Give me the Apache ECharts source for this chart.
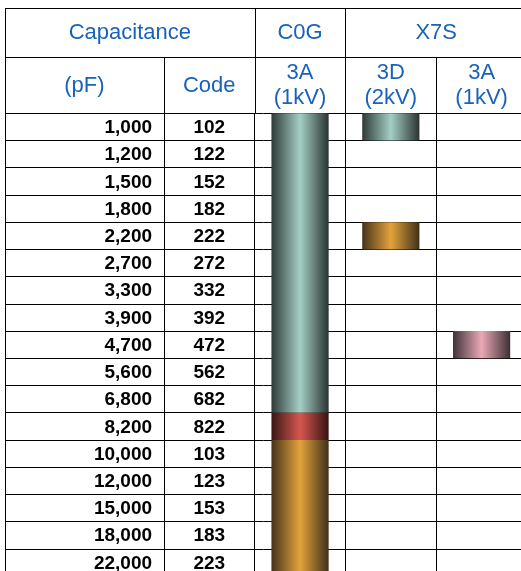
<!DOCTYPE html>
<html>
<head>
<meta charset="utf-8">
<script src="https://cdn.jsdelivr.net/npm/echarts@6/dist/echarts.min.js"></script>
<style>
html,body{margin:0;padding:0;background:#fff;}
#chart{width:521px;height:571px;}
</style>
</head>
<body>
<div id="chart"></div>
<script>
// ---- data ----
const capacitance = ['1,000','1,200','1,500','1,800','2,200','2,700','3,300','3,900','4,700','5,600','6,800','8,200','10,000','12,000','15,000','18,000','22,000'];
const codes = ['102','122','152','182','222','272','332','392','472','562','682','822','103','123','153','183','223'];
const headerTop = ['Capacitance','C0G','X7S'];
const headerSub = ['(pF)','Code','3A\n(1kV)','3D\n(2kV)','3A\n(1kV)'];
// colour class of each row, per product column ('' = not available)
const c0g3A = ['teal','teal','teal','teal','teal','teal','teal','teal','teal','teal','teal','red','orange','orange','orange','orange','orange'];
const x7s3D = ['teal','','','','orange','','','','','','','','','','','',''];
const x7s3A = ['','','','','','','','','pink','','','','','','','',''];

// ---- layout / style ----
const GRID_LEFT = 5, GRID_TOP = 113.3, GRID_W = 522, ROW_H = 27.22;
const UNITS = 5.75;
const UNIT = GRID_W / UNITS;
const colEdges = [0, 1.75, 2.75, 3.75, 4.75];
const productCols = [c0g3A, x7s3D, x7s3A];
const productCenters = [3.25, 4.25, 5.25];
const BAR_W = 0.63;
const BLUE = '#1862bb';
const FONT = '"Liberation Sans", Arial, Helvetica, sans-serif';
const grads = {
  teal:   ['#2e3a38', '#a4cfc4', '#2a3331'],
  red:    ['#3a1615', '#d6574f', '#361413'],
  orange: ['#46331a', '#e3a33d', '#40301a'],
  pink:   ['#40333a', '#eaa9b5', '#3b2f34']
};

const chart = echarts.init(document.getElementById('chart'), null, {renderer: 'canvas'});

// merge consecutive rows of the same colour class into runs: [xCenter, firstRow, lastRow, kind]
const barData = [];
productCols.forEach((col, ci) => {
  let start = -1;
  for (let r = 0; r <= col.length; r++) {
    const k = col[r];
    if (start >= 0 && (r === col.length || k !== col[start])) {
      barData.push([productCenters[ci], start, r - 1, col[start]]);
      start = -1;
    }
    if (r < col.length && k && start < 0) start = r;
  }
});

function px(u) { return GRID_LEFT + u * UNIT; }

// header graphics
const Y0 = 8.5, Y1 = 57.5, Y2 = GRID_TOP;
const graphic = [];
function hline(x1, x2, y) { graphic.push({type:'line', shape:{x1, y1:y, x2, y2:y}, style:{stroke:'#000', lineWidth:1}, silent:true}); }
function vline(x, y1, y2) { graphic.push({type:'line', shape:{x1:x, y1, x2:x, y2}, style:{stroke:'#000', lineWidth:1}, silent:true}); }
hline(px(0), 521, Y0);
hline(px(0), 521, Y1);
function snap(u) { return Math.round(px(u) * 2 + 1) / 2 - 0.5 + (Math.round(px(u)) === Math.round(px(u) * 2) / 2 ? 0.5 : 0); }
[0, 2.75, 3.75].forEach(u => vline(Math.round(px(u)) + 0.5, Y0, Y2));
[1.75, 4.75].forEach(u => vline(Math.round(px(u)) + 0.5, Y1, Y2));
function htext(text, cx, cy) {
  graphic.push({type:'text', x: cx, y: cy, style:{text, fill: BLUE, font: '22px ' + FONT, align:'center', verticalAlign:'middle', lineHeight: 25}, silent:true});
}
const topSpans = [[0, 2.75], [2.75, 3.75], [3.75, 5.75]];
headerTop.forEach((t, i) => htext(t, px((topSpans[i][0] + topSpans[i][1]) / 2), (Y0 + Y1) / 2));
const subSpans = [[0, 1.75], [1.75, 2.75], [2.75, 3.75], [3.75, 4.75], [4.75, 5.75]];
headerSub.forEach((t, i) => htext(t, px((subSpans[i][0] + subSpans[i][1]) / 2), (Y1 + Y2) / 2 + 0.5));

chart.setOption({
  animation: false,
  backgroundColor: '#fff',
  graphic: graphic,
  grid: {left: GRID_LEFT, top: GRID_TOP, width: GRID_W, height: ROW_H * capacitance.length, outerBoundsMode: 'none', containLabel: false},
  xAxis: {type: 'value', min: 0, max: UNITS, show: false},
  yAxis: {
    type: 'category', data: capacitance, inverse: true,
    axisLine: {show: false}, axisTick: {show: false}, axisLabel: {show: false},
    splitLine: {show: true, lineStyle: {color: '#000', width: 1}}
  },
  series: [
    {
      type: 'line', data: [], silent: true,
      markLine: {
        silent: true, symbol: 'none', label: {show: false},
        lineStyle: {color: '#000', width: 1, type: 'solid'},
        data: colEdges.map(u => ({xAxis: u}))
      }
    },
    {
      type: 'custom', silent: true,
      data: capacitance.map((c, i) => [1.62, i]),
      renderItem: (params, api) => {
        const p = api.coord([api.value(0), api.value(1)]);
        return {type: 'text', x: p[0], y: p[1] + 1, style: {text: capacitance[params.dataIndex], fill: '#000', font: 'bold 19px ' + FONT, align: 'right', verticalAlign: 'middle'}};
      }
    },
    {
      type: 'custom', silent: true,
      data: codes.map((c, i) => [2.25, i]),
      renderItem: (params, api) => {
        const p = api.coord([api.value(0), api.value(1)]);
        return {type: 'text', x: p[0], y: p[1] + 1, style: {text: codes[params.dataIndex], fill: '#000', font: 'bold 19px ' + FONT, align: 'center', verticalAlign: 'middle'}};
      }
    },
    {
      type: 'custom', silent: true, z: 5,
      data: barData,
      renderItem: (params, api) => {
        const pTop = api.coord([api.value(0), api.value(1)]);
        const pBot = api.coord([api.value(0), api.value(2)]);
        const w = api.size([BAR_W, 0])[0];
        const h = api.size([0, 1])[1];
        const y0 = pTop[1] - h / 2, y1 = pBot[1] + h / 2;
        const g = grads[barData[params.dataIndex][3]];
        return {
          type: 'rect',
          shape: {x: pTop[0] - w / 2, y: y0, width: w, height: y1 - y0},
          style: {fill: {type: 'linear', x: 0, y: 0, x2: 1, y2: 0, colorStops: [
            {offset: 0, color: g[0]}, {offset: 0.5, color: g[1]}, {offset: 1, color: g[2]}
          ]}}
        };
      }
    }
  ]
});
</script>
</body>
</html>
